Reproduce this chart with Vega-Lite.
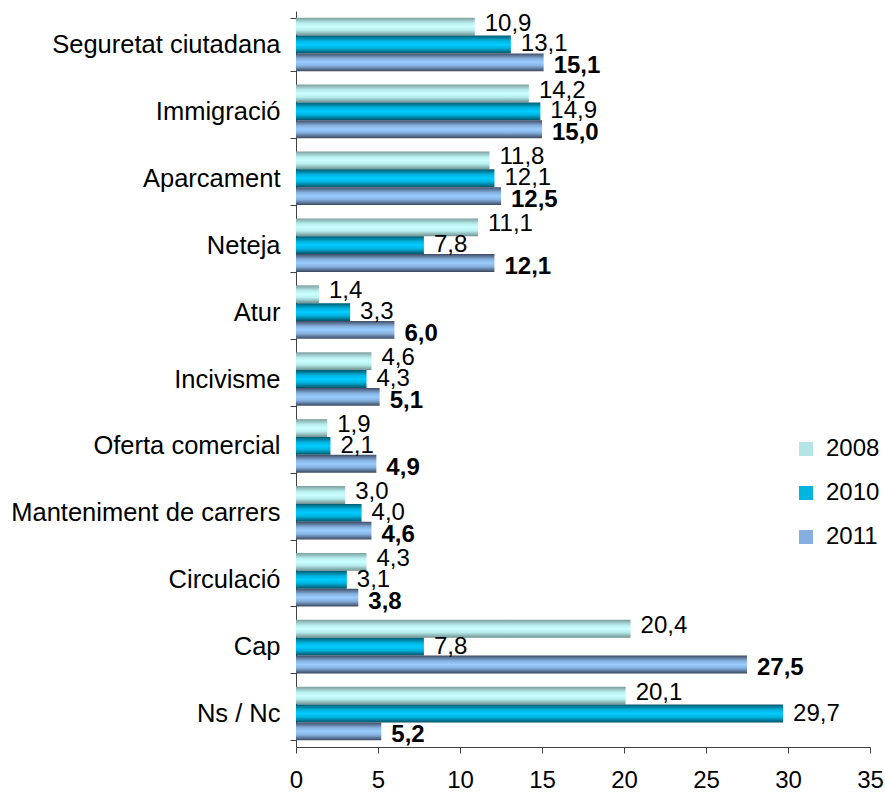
{
  "$schema": "https://vega.github.io/schema/vega-lite/v6.json",
  "width": 574,
  "height": 736,
  "autosize": "none",
  "padding": {"left": 296, "top": 11, "right": 15, "bottom": 47},
  "background": "white",
  "config": {
    "font": "Liberation Sans",
    "view": {"stroke": null},
    "locale": {"number": {"decimal": ",", "thousands": ".", "grouping": [3], "currency": ["", " €"]}}
  },
  "data": {"values": [
    {"cat": "Seguretat ciutadana", "year": "2008", "v": 10.9},
    {"cat": "Seguretat ciutadana", "year": "2010", "v": 13.1},
    {"cat": "Seguretat ciutadana", "year": "2011", "v": 15.1},
    {"cat": "Immigració", "year": "2008", "v": 14.2},
    {"cat": "Immigració", "year": "2010", "v": 14.9},
    {"cat": "Immigració", "year": "2011", "v": 15.0},
    {"cat": "Aparcament", "year": "2008", "v": 11.8},
    {"cat": "Aparcament", "year": "2010", "v": 12.1},
    {"cat": "Aparcament", "year": "2011", "v": 12.5},
    {"cat": "Neteja", "year": "2008", "v": 11.1},
    {"cat": "Neteja", "year": "2010", "v": 7.8},
    {"cat": "Neteja", "year": "2011", "v": 12.1},
    {"cat": "Atur", "year": "2008", "v": 1.4},
    {"cat": "Atur", "year": "2010", "v": 3.3},
    {"cat": "Atur", "year": "2011", "v": 6.0},
    {"cat": "Incivisme", "year": "2008", "v": 4.6},
    {"cat": "Incivisme", "year": "2010", "v": 4.3},
    {"cat": "Incivisme", "year": "2011", "v": 5.1},
    {"cat": "Oferta comercial", "year": "2008", "v": 1.9},
    {"cat": "Oferta comercial", "year": "2010", "v": 2.1},
    {"cat": "Oferta comercial", "year": "2011", "v": 4.9},
    {"cat": "Manteniment de carrers", "year": "2008", "v": 3.0},
    {"cat": "Manteniment de carrers", "year": "2010", "v": 4.0},
    {"cat": "Manteniment de carrers", "year": "2011", "v": 4.6},
    {"cat": "Circulació", "year": "2008", "v": 4.3},
    {"cat": "Circulació", "year": "2010", "v": 3.1},
    {"cat": "Circulació", "year": "2011", "v": 3.8},
    {"cat": "Cap", "year": "2008", "v": 20.4},
    {"cat": "Cap", "year": "2010", "v": 7.8},
    {"cat": "Cap", "year": "2011", "v": 27.5},
    {"cat": "Ns / Nc", "year": "2008", "v": 20.1},
    {"cat": "Ns / Nc", "year": "2010", "v": 29.7},
    {"cat": "Ns / Nc", "year": "2011", "v": 5.2}
  ]},
  "encoding": {
    "y": {
      "field": "cat", "type": "nominal",
      "sort": ["Seguretat ciutadana", "Immigració", "Aparcament", "Neteja", "Atur", "Incivisme", "Oferta comercial", "Manteniment de carrers", "Circulació", "Cap", "Ns / Nc"],
      "scale": {"paddingInner": 0.2, "paddingOuter": 0.1},
      "axis": {
        "title": null, "tickBand": "extent", "tickSize": 6, "tickColor": "#404040",
        "domainColor": "#404040", "labelFontSize": 25.5, "labelColor": "#000000",
        "labelPadding": 10, "labelLimit": 400
      }
    },
    "yOffset": {"field": "year", "type": "nominal", "sort": ["2008", "2010", "2011"]},
    "x": {
      "field": "v", "type": "quantitative",
      "scale": {"domain": [0, 35], "nice": false},
      "axis": {
        "title": null, "grid": false, "values": [0, 5, 10, 15, 20, 25, 30, 35],
        "tickSize": 6, "tickColor": "#404040", "domainColor": "#404040",
        "labelFontSize": 24, "labelColor": "#000000", "labelPadding": 15, "labelFlush": false
      }
    }
  },
  "layer": [
    {
      "mark": {"type": "bar"},
      "encoding": {
        "fill": {
          "condition": [
            {"test": "datum.year == '2008'", "value": {"gradient": "linear", "x1": 0, "y1": 0, "x2": 0, "y2": 1, "stops": [
              {"offset": 0, "color": "#7d9e9e"}, {"offset": 0.3, "color": "#b8eeee"}, {"offset": 0.5, "color": "#ccffff"}, {"offset": 0.7, "color": "#b8eeee"}, {"offset": 1, "color": "#6f9090"}]}},
            {"test": "datum.year == '2010'", "value": {"gradient": "linear", "x1": 0, "y1": 0, "x2": 0, "y2": 1, "stops": [
              {"offset": 0, "color": "#005a70"}, {"offset": 0.3, "color": "#00b4e0"}, {"offset": 0.5, "color": "#00ccff"}, {"offset": 0.7, "color": "#00b4e0"}, {"offset": 1, "color": "#005266"}]}}
          ],
          "value": {"gradient": "linear", "x1": 0, "y1": 0, "x2": 0, "y2": 1, "stops": [
            {"offset": 0, "color": "#3f4c66"}, {"offset": 0.3, "color": "#86b2e0"}, {"offset": 0.5, "color": "#99ccff"}, {"offset": 0.7, "color": "#86b2e0"}, {"offset": 1, "color": "#3a475e"}]}
        }
      }
    },
    {
      "mark": {"type": "square", "opacity": 0},
      "encoding": {
        "color": {
          "field": "year", "type": "nominal",
          "scale": {"domain": ["2008", "2010", "2011"], "range": ["#b4e4e4", "#00b4e0", "#86aee0"]},
          "legend": {
            "title": null, "orient": "none", "legendX": 498, "legendY": 426,
            "symbolType": "square", "symbolSize": 196, "symbolStrokeWidth": 0, "symbolOpacity": 1,
            "labelFontSize": 24, "labelColor": "#000000", "rowPadding": 20, "labelOffset": 8
          }
        }
      }
    },
    {
      "transform": [{"filter": "datum.year == '2008'"}],
      "mark": {"type": "text", "align": "left", "baseline": "middle", "dx": 10, "dy": -3, "fontSize": 24, "color": "#000000"},
      "encoding": {"text": {"field": "v", "type": "quantitative", "format": ".1f"}}
    },
    {
      "transform": [{"filter": "datum.year == '2010'"}],
      "mark": {"type": "text", "align": "left", "baseline": "middle", "dx": 10, "dy": 0, "fontSize": 24, "color": "#000000"},
      "encoding": {"text": {"field": "v", "type": "quantitative", "format": ".1f"}}
    },
    {
      "transform": [{"filter": "datum.year == '2011'"}],
      "mark": {"type": "text", "align": "left", "baseline": "middle", "dx": 10, "dy": 4, "fontSize": 24, "fontWeight": "bold", "color": "#000000"},
      "encoding": {"text": {"field": "v", "type": "quantitative", "format": ".1f"}}
    }
  ]
}
